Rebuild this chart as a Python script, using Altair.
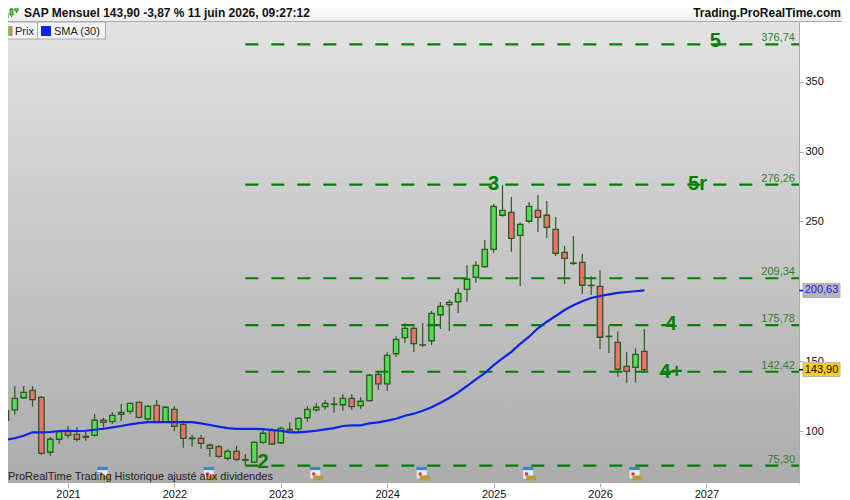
import altair as alt
import pandas as pd

FONT = "Liberation Sans"

opens = [107.7,115.2,123.8,129.1,124.1,84.8,94.1,99.5,97.6,95.5,96.9,107.7,106.7,112.0,114.1,120.5,108.6,118.4,106.7,115.5,104.8,95.0,94.8,89.8,88.8,80.5,85.5,79.1,77.8,91.9,100.7,91.6,100.7,101.6,109.5,115.2,117.4,119.3,118.8,123.4,118.1,121.7,140.6,133.8,155.3,166.8,173.5,161.7,164.6,183.2,190.4,192.5,201.4,210.0,217.6,230.0,254.4,256.5,240.0,250.1,257.9,254.4,244.3,227.9,220.2,220.7,204.3,203.5,167.8,163.5,146.3,145.6,157.0]
closes = [114.8,123.4,127.7,122.4,84.0,94.1,99.5,96.9,94.1,96.2,107.7,106.2,111.2,113.4,119.8,109.8,117.7,106.2,117.0,103.4,94.8,94.5,91.2,87.6,81.9,85.5,79.7,79.6,91.9,98.4,90.7,101.9,101.2,109.1,115.5,117.0,119.8,119.0,123.4,117.4,121.3,139.9,133.8,154.2,165.6,173.5,162.5,161.5,184.2,189.2,192.1,198.5,208.6,218.6,230.0,260.8,257.9,237.9,247.9,260.8,252.9,245.8,227.2,223.6,219.9,204.3,204.1,167.1,167.6,144.2,142.7,154.9,143.9]
highs = [117.9,132.2,132.2,132.2,125.0,95.7,100.7,103.6,102.9,99.3,112.2,109.5,113.6,119.3,120.3,121.0,118.6,122.2,117.9,117.9,107.4,97.4,97.1,91.2,90.0,86.9,89.3,83.3,92.6,101.9,102.1,103.1,106.2,110.0,117.7,120.0,122.0,124.3,126.3,126.5,124.1,140.8,142.2,156.3,167.8,177.1,175.4,177.3,185.9,192.3,193.7,202.3,218.6,221.4,236.7,262.4,276.0,267.4,249.3,263.9,268.9,264.6,253.1,232.4,239.5,226.7,210.7,215.2,175.6,171.3,156.3,159.2,172.8]
lows = [102.4,111.7,123.1,117.4,83.0,82.3,90.9,94.8,92.3,93.1,95.9,102.4,105.2,107.2,112.0,109.1,105.9,105.5,105.9,99.8,88.0,88.8,87.1,81.6,80.7,79.0,78.5,75.2,76.9,90.7,90.0,90.7,100.0,99.3,106.7,113.8,115.2,113.1,114.5,115.0,116.0,121.0,129.6,128.6,153.0,163.0,156.5,160.1,161.5,173.0,171.6,184.4,192.5,206.1,216.9,227.6,253.4,228.3,203.8,248.6,242.4,238.1,225.2,205.2,218.8,198.0,197.3,158.7,155.8,138.9,134.6,134.6,142.7]
sma_30 = [93.8,94.8,96.6,99.1,99.1,99.3,100.0,100.2,100.0,100.2,100.9,101.6,102.6,103.6,104.8,105.7,106.4,106.4,106.4,106.4,106.4,106.4,105.5,104.3,103.1,102.1,101.6,101.6,101.6,101.4,100.7,100.2,99.1,99.1,99.5,100.2,101.2,102.1,103.6,104.1,104.1,105.5,106.2,107.4,108.8,110.9,112.4,114.5,117.0,120.3,123.6,127.7,132.2,137.0,141.5,147.2,152.0,156.7,162.3,167.5,173.5,178.2,182.3,186.6,190.0,192.8,195.2,196.6,197.8,198.8,199.5,200.0,200.63]

year_months = [7, 19, 31, 43, 55, 67, 79]
year_labels = ["2021", "2022", "2023", "2024", "2025", "2026", "2027"]
price_ticks = [100, 150, 200, 250, 300, 350]
level_values = [376.74, 276.26, 209.34, 175.78, 142.42, 75.30]
level_labels = ["376,74", "276,26", "209,34", "175,78", "142,42", "75,30"]
wave_labels = ["5", "5r", "3", "4", "4+", "2"]
wave_months = [80, 78, 55, 75, 75, 29]
wave_prices = [379, 277, 277, 176.5, 142.5, 77.5]
dividend_months = [11, 23, 35, 47, 59, 71]
level_start_month = 27
last_price, last_label = 143.90, "143,90"
sma_last, sma_label = 200.63, "200,63"

X_DOMAIN = [0.233, 89.44]
Y_DOMAIN = [62.8, 392.7]
W, H, TOP = 791, 461, 14
TOTAL_W = 834

GREEN = "#008000"
DARK = "#2a5a1c"
x_scale = alt.Scale(domain=X_DOMAIN, nice=False, zero=False, padding=0)
y_scale = alt.Scale(domain=Y_DOMAIN, nice=False, zero=False, padding=0)

candles = pd.DataFrame({"month": range(len(opens)), "open": opens, "close": closes,
                        "high": highs, "low": lows, "sma": sma_30})
candles["dir"] = ["up" if c >= o else "down" for o, c in zip(opens, closes)]
levels = pd.DataFrame({"price": level_values, "label": level_labels,
                       "start": level_start_month, "end": X_DOMAIN[1]})
waves = pd.DataFrame({"label": wave_labels, "month": wave_months, "price": wave_prices})
divs = pd.DataFrame({"month": dividend_months})
one = alt.Data(values=[{"a": 1}])

X = lambda f: alt.X(f, type="quantitative", scale=x_scale, title=None)
Y = lambda f: alt.Y(f, type="quantitative", scale=y_scale, title=None)


def box(x0, x1, y0, y1, fill, stroke=None):
    """Decorative rectangle given in image pixels."""
    kw = {"stroke": stroke, "strokeWidth": 1} if stroke else {}
    return alt.Chart(one).mark_rect(fill=fill, **kw).encode(
        x=alt.value(x0 - 8), x2=alt.value(x1 - 8), y=alt.value(y0 - 22), y2=alt.value(y1 - 22))


def label(text, x, y, size=11, color="#222222", weight="normal", align="left"):
    return alt.Chart(one).mark_text(text=text, font=FONT, fontSize=size, color=color,
                                    fontWeight=weight, align=align, baseline="alphabetic").encode(
        x=alt.value(x - 8), y=alt.value(y - 22))


grad = alt.LinearGradient(gradient="linear", x1=0, x2=0, y1=0, y2=1,
                          stops=[alt.GradientStop(color="#e2e2e2", offset=0),
                                 alt.GradientStop(color="#acacac", offset=1)])
head = alt.LinearGradient(gradient="linear", x1=0, x2=0, y1=0, y2=1,
                          stops=[alt.GradientStop(color="#ffffff", offset=0),
                                 alt.GradientStop(color="#ececec", offset=1)])

background = alt.Chart(one).mark_rect(fill=grad).encode(
    x=alt.value(0), x2=alt.value(W), y=alt.value(0), y2=alt.value(H))

axes = alt.Chart(candles).mark_rule(opacity=0).encode(
    x=alt.X("month:Q", scale=x_scale, title=None,
            axis=alt.Axis(values=year_months, grid=False, domain=False, tickColor="#aaaaaa", tickSize=4,
                          labelFont=FONT, labelFontSize=11, labelColor="#111111", labelPadding=1,
                          labelExpr="{" + ",".join(f"{m}:'{l}'" for m, l in zip(year_months, year_labels)) + "}[datum.value]")),
    y=alt.Y("low:Q", scale=y_scale, title=None,
            axis=alt.Axis(orient="right", values=price_ticks, grid=False, domainColor="#aaaaaa",
                          tickColor="#aaaaaa", tickSize=4, labelFont=FONT, labelFontSize=11,
                          labelColor="#111111", labelPadding=2, format="d")),
)

wicks = alt.Chart(candles).mark_rule(color=DARK, strokeWidth=1.2).encode(x=X("month"), y=Y("low"), y2="high")
bodies = alt.Chart(candles).mark_bar(size=5.4, stroke=DARK, strokeWidth=1.3).encode(
    x=X("month"), y=Y("open"), y2="close",
    color=alt.Color("dir:N", scale=alt.Scale(domain=["up", "down"], range=["#55dd55", "#ee7272"]), legend=None))

dashes = alt.Chart(levels).mark_rule(color=GREEN, strokeWidth=2.2, strokeDash=[13, 13]).encode(
    x=X("start"), x2="end", y=Y("price"))
sma_line = alt.Chart(candles).mark_line(color="#0a24ea", strokeWidth=2.2).encode(x=X("month"), y=Y("sma"))
level_text = alt.Chart(levels).mark_text(font=FONT, fontSize=11, color="#2e7f2e", align="right",
                                         baseline="alphabetic", dy=-3).encode(
    x=alt.value(787), y=Y("price"), text="label:N")
wave_text = alt.Chart(waves).mark_text(font=FONT, fontSize=20, fontWeight="bold", color=GREEN,
                                       baseline="middle").encode(
    x=X("month"), y=Y("price"), text="label:N")

# dividend markers
icon_y = lambda img: alt.value(img - 22)
icon = [
    alt.Chart(divs).mark_point(shape="square", filled=True, opacity=1, size=100, color="#e4eaf3", xOffset=-1).encode(x=X("month"), y=icon_y(473.5)),
    alt.Chart(divs).mark_point(shape="M-1,-.3H1V.3H-1Z", filled=True, opacity=1, size=110, color="#3a86c8", xOffset=-1).encode(x=X("month"), y=icon_y(468.5)),
    alt.Chart(divs).mark_point(shape="square", filled=True, opacity=1, size=9, color="#ee2b2b", xOffset=-2.5).encode(x=X("month"), y=icon_y(474)),
    alt.Chart(divs).mark_point(shape="M-1,-.5H1V.5H-1Z", filled=True, opacity=1, size=100, color="#b89b3a", xOffset=2).encode(x=X("month"), y=icon_y(478)),
]

# price tags on the right
def tag(price, text, fill, text_color, tick_color):
    d = alt.Data(values=[{"price": price, "t": text}])
    rect = alt.Chart(d).mark_rect(height=14, fill=fill, stroke="#b0b0b0", strokeWidth=1).encode(
        x=alt.value(795), x2=alt.value(832), y=Y("price"))
    tick = alt.Chart(d).mark_rule(color=tick_color, strokeWidth=1.5).encode(
        x=alt.value(W), x2=alt.value(795), y=Y("price"))
    txt = alt.Chart(d).mark_text(font=FONT, fontSize=11, color=text_color, baseline="middle").encode(
        x=alt.value(813.5), y=Y("price"), text="t:N")
    return [rect, tick, txt]


header = [
    alt.Chart(one).mark_rect(fill=head).encode(x=alt.value(0), x2=alt.value(TOTAL_W), y=alt.value(-14), y2=alt.value(-1)),
    alt.Chart(one).mark_rule(color="#aaaaaa", strokeWidth=1).encode(x=alt.value(0), x2=alt.value(TOTAL_W), y=alt.value(-0.5)),
]
mini = []
for x0, t, b, wt, wb in [(5, 13, 18, 10, 20), (10, 9, 15, 8, 17), (15, 6, 11, 4, 13)]:
    mini.append(alt.Chart(one).mark_rule(color="#2a8a1c").encode(
        x=alt.value(x0 + 1.5 - 8), y=alt.value(wt - 22), y2=alt.value(wb - 22)))
    mini.append(box(x0, x0 + 3, t, b, "#55dd55", "#2a8a1c"))

legend = [
    box(0, 37.5, 22, 39, "#f4f4f4", "#aaaaaa"),
    box(37.5, 105.5, 22, 39, "#f4f4f4", "#aaaaaa"),
    box(8, 10, 26, 36, "#55dd55"),
    box(10, 12.5, 26, 36, "#ee7272"),
    box(41, 51, 26, 36, "#0a24ea"),
    label("Prix", 15, 35),
    label("SMA (30)", 54, 35),
]

texts = [
    label("Trading.ProRealTime.com", 841, 17, size=12, color="#111111", weight="bold", align="right"),
    label("SAP Mensuel 143,90 -3,87 % 11 juin 2026, 09:27:12", 24, 17, size=12, color="#111111", weight="bold"),
    label("ProRealTime Trading  Historique ajusté aux dividendes", 8, 480, size=11, color="#222222"),
]

chart = alt.layer(
    background, axes, wicks, bodies, dashes, sma_line, *icon, level_text, wave_text,
    *header, *mini, *legend, *texts,
    *tag(sma_last, sma_label, "#b4b4b4", "#1a1aee", "#1a1aee"),
    *tag(last_price, last_label, "#ffcc11", "#000000", "#000000"),
).properties(
    width=W, height=H,
    autosize=alt.AutoSizeParams(type="none"),
    padding={"left": 0, "top": TOP, "right": TOTAL_W - W, "bottom": 17},
).configure_view(stroke=None)

chart.save("out.html", embed_options={"renderer": "svg", "actions": False})
